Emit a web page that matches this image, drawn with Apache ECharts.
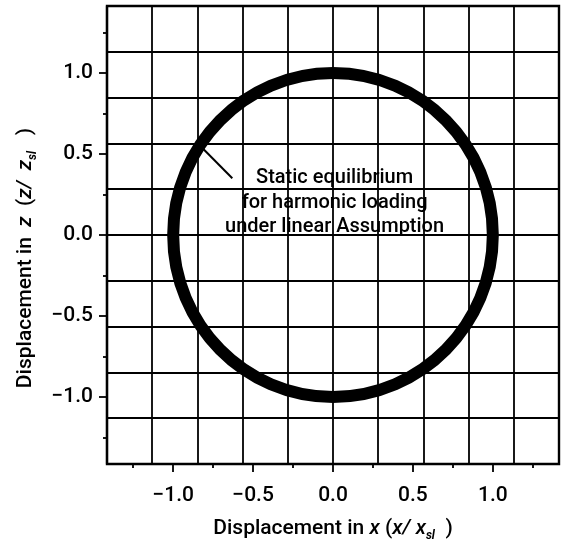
<!DOCTYPE html>
<html>
<head>
<meta charset="utf-8">
<title>Static equilibrium locus</title>
<script src="https://cdn.jsdelivr.net/npm/echarts@6/dist/echarts.min.js"></script>
<style>
  html, body { margin: 0; padding: 0; background: #fff; }
  #chart { width: 567px; height: 547px; }
</style>
</head>
<body>
<div id="chart"></div>
<script>
// Axis extent (both axes symmetric) and the number of grid cells across each axis
const axisExtent = 1.414;
const gridDivisions = 10;

// Labelled (major) ticks and unlabelled (minor) ticks, same for x and z
const majorTicks = [-1.0, -0.5, 0.0, 0.5, 1.0];
const minorTicks = [-1.25, -0.75, -0.25, 0.25, 0.75, 1.25];

// Equilibrium locus: [centre x, centre z, radius] in normalised displacement
const equilibriumLocus = [[0.0, 0.0, 1.0]];

// Leader line from the locus to the annotation
const leaderLine = [[-0.83, 0.55], [-0.63, 0.35]];

// Annotation text and its anchor
const noteAnchor = [[0.01, 0.2]];
const noteLines = ['Static equilibrium', 'for harmonic loading', 'under linear Assumption'];

const FONT = 'Roboto, Liberation Sans, Arial, sans-serif';
const WEIGHT = 500;
const INK = '#000';

const fmtTick = v => (v < 0 ? '\u2212' : '') + Math.abs(v).toFixed(1);

const nameRich = {
  n: { fontSize: 21, fontFamily: FONT, fontWeight: WEIGHT, color: INK, lineHeight: 26 },
  i: { fontSize: 21, fontFamily: FONT, fontWeight: WEIGHT, color: INK, fontStyle: 'italic', lineHeight: 26 },
  s: { fontSize: 12, fontFamily: FONT, color: INK, fontStyle: 'italic', fontWeight: 'bold', verticalAlign: 'bottom', lineHeight: 14 }
};

function mainAxis(dim) {
  const isX = dim === 'x';
  const name = isX
    ? '{n|Displacement in }{i|x}{n| (}{i|x/ x}{s|sl}{n|  )}'
    : '{n|Displacement in  }{i|z}{n|  (}{i|z/  z}{s|sl}{n|   )}';
  return {
    type: 'value',
    position: isX ? 'bottom' : 'left',
    min: -axisExtent,
    max: axisExtent,
    name: name,
    nameLocation: 'middle',
    nameGap: isX ? 52 : 68,
    nameRotate: isX ? 0 : 90,
    nameTextStyle: {
      fontFamily: FONT, fontSize: 21, color: INK, rich: nameRich,
      padding: isX ? 0 : [0, 46, 0, 0]
    },
    axisLine: { show: true, onZero: false, lineStyle: { color: INK, width: 2.2 } },
    axisTick: { show: true, inside: false, length: 8, customValues: majorTicks,
                lineStyle: { color: INK, width: 1.8 } },
    axisLabel: { show: true, customValues: majorTicks, formatter: fmtTick,
                 fontFamily: FONT, fontWeight: WEIGHT, fontSize: 21, color: INK, margin: isX ? 21 : 14 },
    splitLine: { show: false }
  };
}

function minorAxis(dim) {
  const isX = dim === 'x';
  return {
    type: 'value',
    position: isX ? 'bottom' : 'left',
    offset: 0,
    min: -axisExtent,
    max: axisExtent,
    axisLine: { show: false, onZero: false },
    axisTick: { show: true, inside: false, length: 4, customValues: minorTicks,
                lineStyle: { color: INK, width: 1.8 } },
    axisLabel: { show: false },
    splitLine: { show: false }
  };
}

function cellAxis(dim) {
  const isX = dim === 'x';
  const half = gridDivisions / 2;
  return {
    type: 'value',
    position: isX ? 'top' : 'right',
    offset: 0,
    min: -half,
    max: half,
    interval: 1,
    axisLine: { show: false, onZero: false },
    axisTick: { show: false },
    axisLabel: { show: false },
    splitLine: { show: true, lineStyle: { color: INK, width: 1.8 } }
  };
}

const chart = echarts.init(document.getElementById('chart'), null, { renderer: 'canvas' });

chart.setOption({
  backgroundColor: '#fff',
  animation: false,
  grid: {
    left: 107, right: 8, top: 6, bottom: 79,
    show: true, borderColor: INK, borderWidth: 2.4, backgroundColor: 'transparent'
  },
  xAxis: [mainAxis('x'), minorAxis('x'), cellAxis('x')],
  yAxis: [mainAxis('y'), minorAxis('y'), cellAxis('y')],
  series: [
    {
      type: 'custom',
      name: 'locus',
      xAxisIndex: 0, yAxisIndex: 0,
      data: equilibriumLocus,
      z: 5,
      renderItem: function (params, api) {
        const c = api.coord([api.value(0), api.value(1)]);
        const r = api.size([api.value(2), api.value(2)]);
        return {
          type: 'ellipse',
          shape: { cx: c[0], cy: c[1], rx: r[0], ry: r[1] },
          style: { fill: 'none', stroke: INK, lineWidth: 12 }
        };
      }
    },
    {
      type: 'line',
      name: 'leader',
      xAxisIndex: 0, yAxisIndex: 0,
      data: leaderLine,
      symbol: 'none',
      z: 4,
      lineStyle: { color: INK, width: 2 }
    },
    {
      type: 'scatter',
      name: 'note',
      xAxisIndex: 0, yAxisIndex: 0,
      data: noteAnchor,
      symbolSize: 0,
      z: 6,
      itemStyle: { opacity: 1, color: INK },
      label: {
        show: true,
        position: 'inside',
        formatter: noteLines.join('\n'),
        fontFamily: FONT,
        fontWeight: WEIGHT,
        fontSize: 20,
        lineHeight: 24.5,
        align: 'center',
        color: INK,
        opacity: 1
      }
    }
  ]
});
</script>
</body>
</html>
